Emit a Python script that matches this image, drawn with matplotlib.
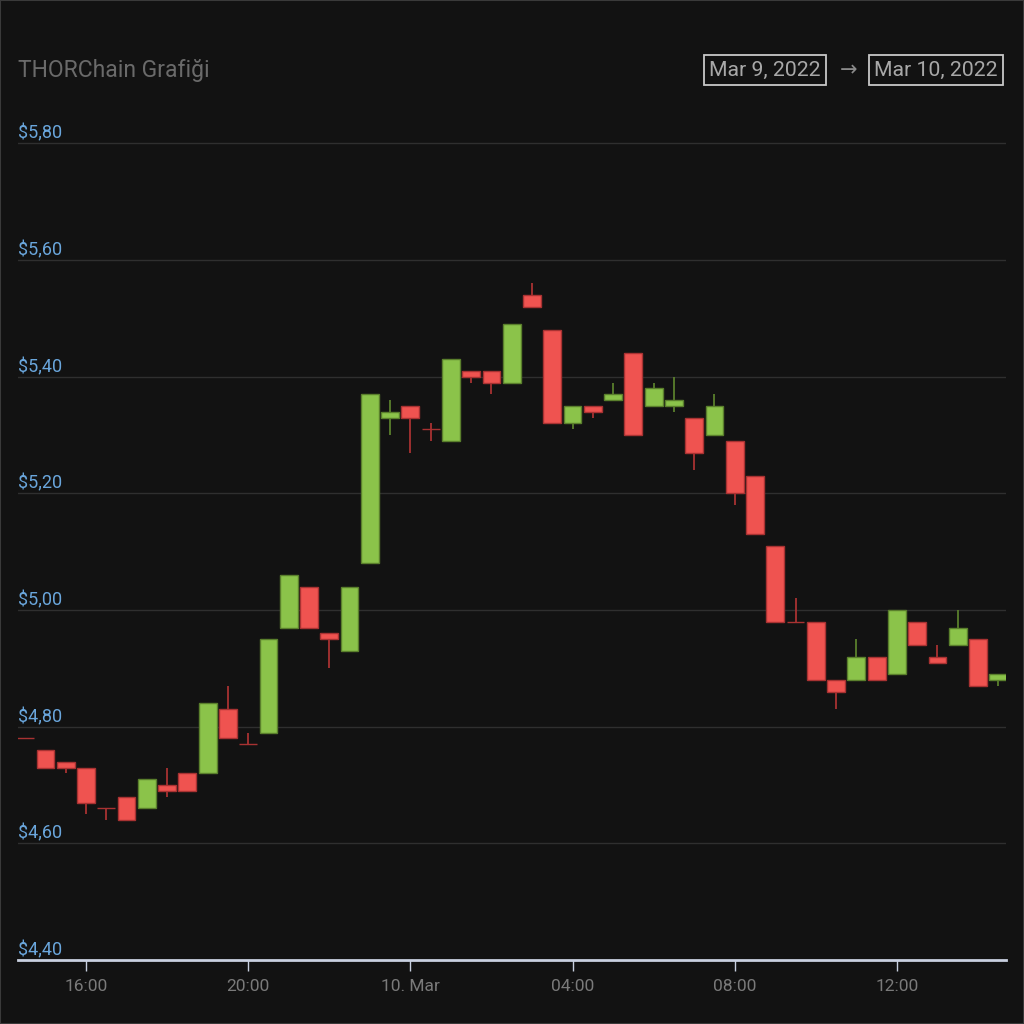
import matplotlib.pyplot as plt
import matplotlib.patches as patches
import numpy as np

# 30-minute candles, Mar 9 14:30 -> Mar 10 14:30 (hours since Mar 9 00:00)
hours = np.arange(14.5, 39.0, 0.5)
opens = [4.78, 4.76, 4.74, 4.73, 4.66, 4.68, 4.66, 4.70, 4.72, 4.72,
         4.83, 4.77, 4.79, 4.97, 5.04, 4.96, 4.93, 5.08, 5.33, 5.35,
         5.31, 5.29, 5.41, 5.41, 5.39, 5.54, 5.48, 5.32, 5.35, 5.36,
         5.44, 5.35, 5.35, 5.33, 5.30, 5.29, 5.23, 5.11, 4.98, 4.98,
         4.88, 4.88, 4.92, 4.89, 4.98, 4.92, 4.94, 4.95, 4.88]
highs = [4.78, 4.76, 4.74, 4.73, 4.66, 4.68, 4.71, 4.73, 4.72, 4.84,
         4.87, 4.79, 4.95, 5.06, 5.04, 4.96, 5.04, 5.37, 5.36, 5.35,
         5.32, 5.43, 5.41, 5.41, 5.49, 5.56, 5.48, 5.35, 5.35, 5.39,
         5.44, 5.39, 5.40, 5.33, 5.37, 5.29, 5.23, 5.11, 5.02, 4.98,
         4.88, 4.95, 4.92, 5.00, 4.98, 4.94, 5.00, 4.95, 4.89]
lows = [4.78, 4.73, 4.72, 4.65, 4.64, 4.64, 4.66, 4.68, 4.69, 4.72,
        4.78, 4.77, 4.79, 4.97, 4.97, 4.90, 4.93, 5.08, 5.30, 5.27,
        5.29, 5.29, 5.39, 5.37, 5.39, 5.52, 5.32, 5.31, 5.33, 5.36,
        5.30, 5.35, 5.34, 5.24, 5.30, 5.18, 5.13, 4.98, 4.98, 4.88,
        4.83, 4.88, 4.88, 4.89, 4.94, 4.91, 4.94, 4.87, 4.87]
closes = [4.78, 4.73, 4.73, 4.67, 4.66, 4.64, 4.71, 4.69, 4.69, 4.84,
          4.78, 4.77, 4.95, 5.06, 4.97, 4.95, 5.04, 5.37, 5.34, 5.33,
          5.31, 5.43, 5.40, 5.39, 5.49, 5.52, 5.32, 5.35, 5.34, 5.37,
          5.30, 5.38, 5.36, 5.27, 5.35, 5.20, 5.13, 4.98, 4.98, 4.88,
          4.86, 4.92, 4.88, 5.00, 4.94, 4.91, 4.97, 4.87, 4.89]

tick_hours = [16, 20, 24, 28, 32, 36]
tick_labels = ['16:00', '20:00', '10. Mar', '04:00', '08:00', '12:00']
price_levels = [4.40, 4.60, 4.80, 5.00, 5.20, 5.40, 5.60, 5.80]

bg = '#121212'
up_fill, up_edge = '#8bc34a', '#5a7f2c'
dn_fill, dn_edge = '#ef5350', '#a83232'

plt.rcParams['font.family'] = ['Roboto', 'DejaVu Sans']

fig = plt.figure(figsize=(10.24, 10.24), dpi=100, facecolor=bg)
ax = fig.add_axes([18/1024, 64/1024, 988/1024, 830/1024], facecolor=bg)

# outer frame
fig.patches.append(patches.Rectangle((0, 0), 1, 1, transform=fig.transFigure,
                                     fill=False, ec='#3a3a3a', lw=1.5))

o = np.array(opens)
c = np.array(closes)
up = c > o
fills = np.where(up, up_fill, dn_fill)
edges = np.where(up, up_edge, dn_edge)

ax.vlines(hours, lows, highs, colors=edges, lw=1.3, zorder=2)
ax.bar(hours, np.abs(c - o), bottom=np.minimum(o, c), width=0.44,
       color=fills, edgecolor=edges, linewidth=1, zorder=3)

ax.set_xlim(14.323, 38.69)
ax.set_ylim(4.40, 4.40 + 830/583.3)

for v in price_levels:
    if v > 4.41:
        ax.axhline(v, color='#2f2f2f', lw=1, zorder=1)
    ax.annotate('$' + f'{v:.2f}'.replace('.', ','), xy=(0, v),
                xycoords=ax.get_yaxis_transform(), xytext=(0, 0.5),
                textcoords='offset points', ha='left', va='bottom',
                fontsize=13, color='#6aa6dc')

for s in ['top', 'right', 'left']:
    ax.spines[s].set_visible(False)
ax.spines['bottom'].set_color('#c8d0e0')
ax.spines['bottom'].set_linewidth(2)
ax.set_yticks([])
ax.set_xticks(tick_hours)
ax.set_xticklabels(tick_labels)
ax.tick_params(axis='x', colors='#c8d0e0', length=8, width=1, pad=6,
               labelsize=12.5, labelcolor='#7a7a7a')

fig.text(18/1024, 1 - 70/1024, 'THORChain Grafiği', fontsize=16.5,
         color='#6a6a6a', va='center', ha='left')
box = dict(boxstyle='square,pad=0.24', fc='none', ec='#c8c8c8', lw=1.3)
fig.text(765/1024, 1 - 70/1024, 'Mar 9, 2022', fontsize=15.3, color='#a8a8a8',
         ha='center', va='center', bbox=box)
fig.text(849/1024, 1 - 71/1024, '→', fontsize=15, color='#8a8a8a',
         ha='center', va='center')
fig.text(936/1024, 1 - 70/1024, 'Mar 10, 2022', fontsize=15.3, color='#a8a8a8',
         ha='center', va='center', bbox=box)

fig.savefig('out.png', dpi=100, facecolor=bg)
